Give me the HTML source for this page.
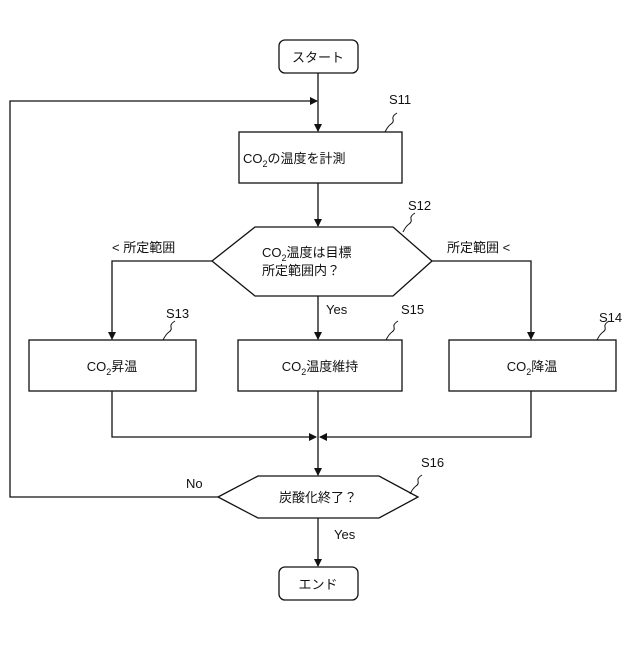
<!DOCTYPE html>
<html><head><meta charset="utf-8"><style>
body{margin:0;background:#fff}
svg text{font-family:"Liberation Sans","Noto Sans CJK JP",sans-serif;fill:#111}
</style></head><body>
<svg width="640" height="640" viewBox="0 0 640 640" xmlns="http://www.w3.org/2000/svg">
<defs><marker id="a" markerWidth="8" markerHeight="8" refX="7" refY="4" orient="auto" markerUnits="userSpaceOnUse"><path d="M0,0 L8,4 L0,8 z" fill="#111"/></marker></defs>
<g stroke="#111" stroke-width="1.3" fill="none">
<rect x="279" y="40" width="79" height="33" rx="6"/>
<line x1="318" y1="73" x2="318" y2="131" marker-end="url(#a)"/>
<polyline points="218,497 10,497 10,101 317,101" marker-end="url(#a)"/>
<rect x="239" y="132" width="163" height="51"/>
<line x1="318" y1="183" x2="318" y2="226" marker-end="url(#a)"/>
<polygon points="212,261 255,227 393,227 432,261 393,296 255,296"/>
<polyline points="212,261 112,261 112,339" marker-end="url(#a)"/>
<polyline points="432,261 531,261 531,339" marker-end="url(#a)"/>
<line x1="318" y1="296" x2="318" y2="339" marker-end="url(#a)"/>
<rect x="29" y="340" width="167" height="51"/>
<rect x="238" y="340" width="164" height="51"/>
<rect x="449" y="340" width="167" height="51"/>
<polyline points="112,391 112,437 316,437" marker-end="url(#a)"/>
<polyline points="531,391 531,437 320,437" marker-end="url(#a)"/>
<line x1="318" y1="391" x2="318" y2="475" marker-end="url(#a)"/>
<polygon points="218,497 258,476 379,476 418,497 379,518 258,518"/>
<line x1="318" y1="518" x2="318" y2="566" marker-end="url(#a)"/>
<rect x="279" y="567" width="79" height="33" rx="6"/>
<path d="M385,132 q3,-6 6,-8 q3,-2 2,-5 q-1,-3 4,-6" stroke-width="1"/>
<path d="M403,232 q3,-6 6,-8 q3,-2 2,-5 q-1,-3 4,-6" stroke-width="1"/>
<path d="M163,340 q3,-6 6,-8 q3,-2 2,-5 q-1,-3 4,-6" stroke-width="1"/>
<path d="M386,340 q3,-6 6,-8 q3,-2 2,-5 q-1,-3 4,-6" stroke-width="1"/>
<path d="M597,340 q3,-6 6,-8 q3,-2 2,-5 q-1,-3 4,-6" stroke-width="1"/>
<path d="M410,494 q3,-6 6,-8 q3,-2 2,-5 q-1,-3 4,-6" stroke-width="1"/>
</g>
<g font-size="13">
<text x="318" y="62" text-anchor="middle">スタート</text>
<text x="318" y="589" text-anchor="middle">エンド</text>
<text x="243" y="163">CO<tspan font-size="9" dy="4">2</tspan><tspan dy="-4">の温度を計測</tspan></text>
<text x="262" y="257">CO<tspan font-size="9" dy="4">2</tspan><tspan dy="-4">温度は目標</tspan></text>
<text x="262" y="275">所定範囲内？</text>
<text x="112" y="371" text-anchor="middle">CO<tspan font-size="9" dy="4">2</tspan><tspan dy="-4">昇温</tspan></text>
<text x="320" y="371" text-anchor="middle">CO<tspan font-size="9" dy="4">2</tspan><tspan dy="-4">温度維持</tspan></text>
<text x="532" y="371" text-anchor="middle">CO<tspan font-size="9" dy="4">2</tspan><tspan dy="-4">降温</tspan></text>
<text x="318" y="502" text-anchor="middle">炭酸化終了？</text>
<text x="112" y="252">&lt; 所定範囲</text>
<text x="447" y="252">所定範囲 &lt;</text>
<text x="326" y="314">Yes</text>
<text x="334" y="539">Yes</text>
<text x="186" y="488">No</text>
<text x="389" y="104">S11</text>
<text x="408" y="210">S12</text>
<text x="166" y="318">S13</text>
<text x="401" y="314">S15</text>
<text x="599" y="322">S14</text>
<text x="421" y="467">S16</text>
</g>
</svg>
</body></html>
